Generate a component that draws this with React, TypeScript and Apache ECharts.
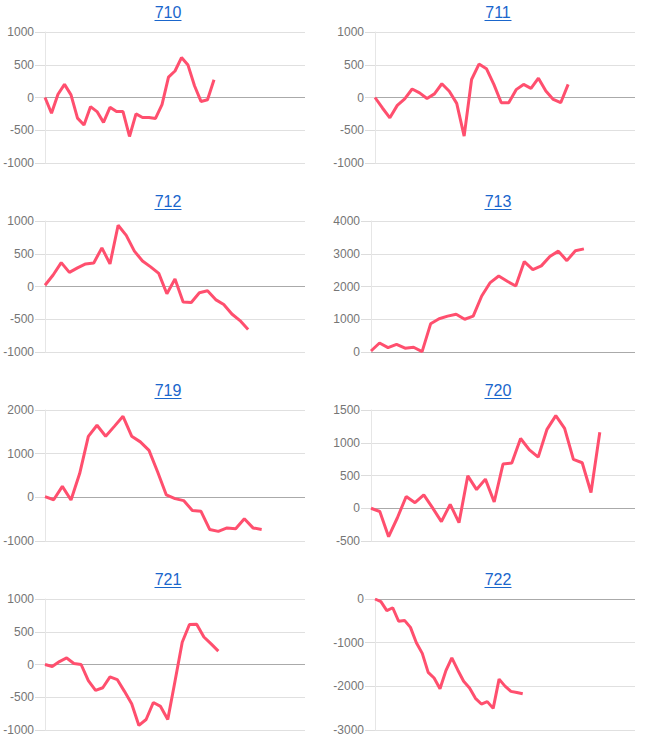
import React, { useEffect, useRef } from "react";
import * as echarts from "echarts";

// Panel names
const panelNames = ["710", "711", "712", "713", "719", "720", "721", "722"];

// Series values (one array per panel)
const values710 = [0, -240, 50, 200, 40, -315, -420, -140, -215, -380, -150, -215, -215, -595, -250, -305, -305, -320, -110, 310, 405, 610, 495, 180, -60, -35, 270];
const values711 = [0, -160, -310, -120, -20, 130, 70, -15, 55, 210, 95, -90, -590, 275, 510, 440, 200, -80, -80, 120, 200, 140, 295, 100, -30, -80, 200];
const values712 = [20, 175, 365, 215, 285, 345, 360, 590, 345, 935, 780, 540, 390, 300, 200, -110, 115, -235, -245, -95, -65, -200, -275, -420, -520, -655];
const values713 = [30, 275, 135, 235, 115, 145, 10, 860, 1015, 1095, 1155, 1000, 1095, 1710, 2120, 2320, 2160, 2015, 2760, 2515, 2630, 2915, 3080, 2790, 3090, 3150];
const values719 = [15, -55, 250, -60, 545, 1395, 1650, 1400, 1625, 1855, 1400, 1270, 1075, 580, 55, -30, -75, -300, -320, -735, -780, -700, -720, -490, -700, -735];
const values720 = [0, -50, -435, -145, 180, 85, 205, 5, -205, 60, -220, 495, 285, 445, 95, 675, 690, 1065, 890, 780, 1205, 1415, 1220, 745, 695, 240, 1160];
const values721 = [0, -30, 45, 100, 15, 0, -245, -395, -355, -190, -230, -410, -600, -930, -840, -580, -640, -840, -255, 340, 610, 615, 420, 315, 205];
const values722 = [0, -60, -265, -200, -510, -490, -650, -1000, -1245, -1680, -1810, -2055, -1640, -1350, -1625, -1885, -2040, -2275, -2405, -2350, -2505, -1835, -1995, -2115, -2140, -2170];

// Y axis tick settings per panel
const yMins = [-1000, -1000, -1000, 0, -1000, -500, -1000, -3000];
const yMaxs = [1000, 1000, 1000, 4000, 2000, 1500, 1000, 0];
const yIntervals = [500, 500, 500, 1000, 1000, 500, 500, 1000];
// X extent (index slots) per panel
const xMaxs = [40, 35, 32, 31, 30, 30, 36, 44];

const allValues = [values710, values711, values712, values713, values719, values720, values721, values722];

const LINE_COLOR = "#ff4f6e";
const LINK_COLOR = "#1a66cc";
const FONT = "'Liberation Sans', Arial, sans-serif";

export default function App() {
  const ref = useRef<HTMLDivElement>(null);

  useEffect(() => {
    if (!ref.current) return;
    const chart = echarts.init(ref.current, undefined, { renderer: "svg" });

    const grids: any[] = [];
    const xAxes: any[] = [];
    const yAxes: any[] = [];
    const series: any[] = [];
    const graphics: any[] = [];

    const colLeft = [
      [45, 260],
      [375, 260],
    ];

    panelNames.forEach((name, i) => {
      const col = i % 2;
      const row = Math.floor(i / 2);
      let left = colLeft[col][0];
      let width = colLeft[col][1];
      if (col === 1 && (i === 3 || i === 5)) {
        left = 371;
        width = 264;
      }
      const top = 32 + row * 189;
      grids.push({ left, top, width, height: 131, containLabel: false });
      xAxes.push({
        type: "value",
        gridIndex: i,
        min: 0,
        max: xMaxs[i],
        show: false,
      });
      yAxes.push({
        type: "value",
        gridIndex: i,
        min: yMins[i],
        max: yMaxs[i],
        interval: yIntervals[i],
        axisLine: { show: true, lineStyle: { color: "#e6e6e6", width: 1 } },
        axisTick: { show: true, length: 10, lineStyle: { color: "#dcdcdc" } },
        axisLabel: {
          margin: 11,
          color: "#757575",
          fontSize: 12,
          fontFamily: FONT,
          formatter: (v: number) => String(v),
        },
        splitLine: { show: true, lineStyle: { color: "#e0e0e0", width: 1 } },
      });
      series.push({
        type: "line",
        name,
        xAxisIndex: i,
        yAxisIndex: i,
        data: allValues[i].map((v, k) => [k, v]),
        showSymbol: false,
        symbol: "none",
        lineStyle: { color: LINE_COLOR, width: 3 },
        itemStyle: { color: LINE_COLOR },
        z: 3,
        markLine: {
          silent: true,
          symbol: "none",
          label: { show: false },
          lineStyle: { color: "#aaaaaa", width: 1, type: "solid" },
          data: [{ yAxis: 0 }],
          z: 2,
        },
      });
      const cx = col === 0 ? 168 : 498;
      const cy = 12.5 + row * 189;
      graphics.push({
        type: "text",
        x: cx,
        y: cy,
        style: {
          text: name,
          fill: LINK_COLOR,
          font: `16px ${FONT}`,
          textAlign: "center",
          textVerticalAlign: "middle",
        },
      });
      graphics.push({
        type: "line",
        shape: { x1: cx - 13.5, y1: cy + 8, x2: cx + 13.5, y2: cy + 8 },
        style: { stroke: LINK_COLOR, lineWidth: 1 },
      });
    });

    chart.setOption({
      animation: false,
      backgroundColor: "#ffffff",
      grid: grids,
      xAxis: xAxes,
      yAxis: yAxes,
      series,
      graphic: graphics,
    });

    return () => chart.dispose();
  }, []);

  return (
    <div
      ref={ref}
      style={{ position: "absolute", left: 0, top: 0, width: 646, height: 752 }}
    />
  );
}
